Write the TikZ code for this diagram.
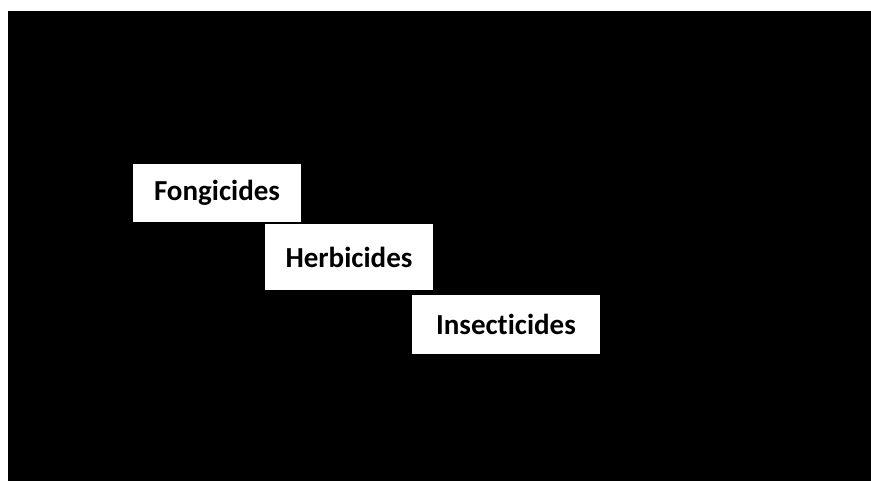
\documentclass[tikz,border=0pt]{standalone}
\usepackage{fontspec}
\setmainfont[Ligatures=NoCommon]{Carlito}
\usetikzlibrary{positioning}

\begin{document}
\begin{tikzpicture}[x=1pt,y=-1pt,
    pestbox/.style={fill=white,inner sep=0pt,outer sep=0pt,
      font=\bfseries\fontsize{29}{34}\selectfont}]
    % background
    \fill[white] (0,0) rectangle (871,481);
    \fill[black] (8,11) rectangle (871,481);
    \useasboundingbox (0,0) rectangle (871,481);
    % the three boxes
    \node[pestbox,minimum width=168pt,minimum height=58pt] (fong) at (217,193) {Fongicides};
    \node[pestbox,minimum width=168pt,minimum height=66pt] (herb) at (349,257) {Herbicides};
    \node[pestbox,minimum width=188pt,minimum height=59pt] (insect) at (506,324.5) {Insecticides};
  \end{tikzpicture}
\end{document}
